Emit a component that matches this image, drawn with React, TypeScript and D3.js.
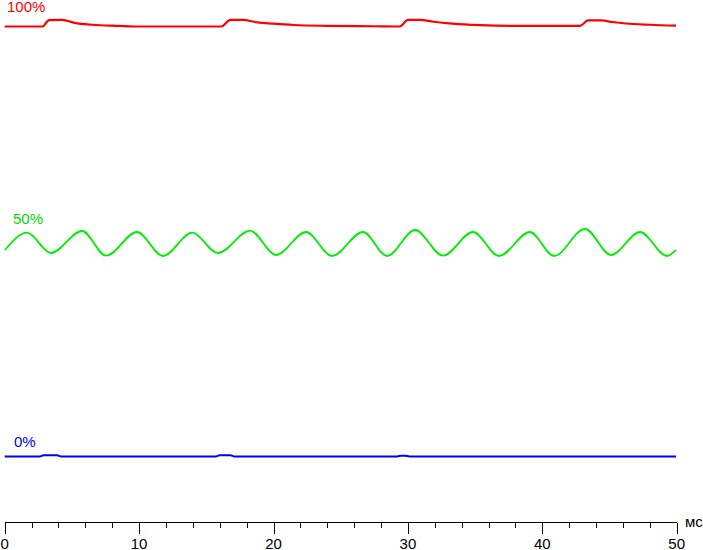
import React from "react";
import * as d3 from "d3";

// time in ms, brightness in % (relative)
const redSeries: [number, number][] = [
  [0, 100.05], [2.8, 100.05], [3.3, 101.55], [4.3, 101.6], [5.2, 100.9], [6.5, 100.45], [8.5, 100.2], [10, 100.05],
  [16.1, 100.05], [16.8, 101.6], [17.7, 101.6], [18.8, 101.0], [20.0, 100.7], [21.5, 100.4], [24.0, 100.2], [27.5, 100.1], [29.4, 100.05],
  [30.0, 101.6], [30.9, 101.6], [31.9, 101.15], [33.3, 100.7], [35.4, 100.35], [38.0, 100.2], [42.8, 100.2],
  [43.4, 101.45], [44.4, 101.45], [45.2, 101.1], [46.2, 100.75], [48.0, 100.45], [49.95, 100.25],
];

const greenSeries: [number, number][] = [
  [0.02, 48.05], [1.66, 52.07], [3.44, 47.35], [5.75, 52.47], [7.54, 46.72], [9.84, 52.23], [11.78, 46.65],
  [13.94, 52.07], [15.87, 47.35], [18.25, 52.54], [20.19, 46.88], [22.42, 52.23], [24.35, 46.65],
  [26.66, 52.23], [28.45, 46.65], [30.53, 52.7], [32.61, 46.72], [34.84, 52.23], [36.78, 46.65],
  [39.08, 52.23], [40.87, 46.65], [43.18, 52.93], [45.11, 46.88], [47.27, 52.23], [49.28, 46.65], [49.95, 48.05],
];

const blueSeries: [number, number][] = [
  [0, 0], [2.6, 0], [2.9, 0.3], [3.9, 0.3], [4.2, 0], [15.7, 0], [16.0, 0.3], [16.8, 0.3], [17.1, 0],
  [29.2, 0], [29.5, 0.2], [29.8, 0.2], [30.1, 0], [49.95, 0],
];

const majorTicks = [0, 10, 20, 30, 40, 50];
const minorTicks = [2, 4, 6, 8, 12, 14, 16, 18, 22, 24, 26, 28, 32, 34, 36, 38, 42, 44, 46, 48];
const seriesLabels = ["100%", "50%", "0%"];
const unitLabel = "мс";

export default function App() {
  const W = 703, H = 550;
  const x = d3.scaleLinear().domain([0, 50]).range([4.7, 676.7]);
  const y = d3.scaleLinear().domain([0, 100]).range([456.5, 26.7]);
  const line = d3
    .line<[number, number]>()
    .x((d) => x(d[0]))
    .y((d) => y(d[1]))
    .curve(d3.curveMonotoneX);
  const axisY = 522.5;
  const font = "'Liberation Sans', Arial, sans-serif";
  return (
    <svg
      width={W}
      height={H}
      style={{ position: "absolute", left: 0, top: 0, background: "#fff" }}
    >
      <path d={line(redSeries) || ""} fill="none" stroke="#ff0000" strokeWidth={2.2} />
      <path d={line(greenSeries) || ""} fill="none" stroke="#00ee00" strokeWidth={1.8} />
      <path d={line(blueSeries) || ""} fill="none" stroke="#0000ff" strokeWidth={2} />

      <text x={7} y={12} fill="#ff0000" fontFamily={font} fontSize={15}>{seriesLabels[0]}</text>
      <text x={13} y={224} fill="#00dd00" fontFamily={font} fontSize={15}>{seriesLabels[1]}</text>
      <text x={14} y={447} fill="#0000ff" fontFamily={font} fontSize={15}>{seriesLabels[2]}</text>

      <g shapeRendering="crispEdges" stroke="#000">
        <line x1={x(0)} x2={x(50)} y1={axisY} y2={axisY} />
        {majorTicks.map((t) => (
          <line key={"M" + t} x1={Math.round(x(t)) + 0.5} x2={Math.round(x(t)) + 0.5} y1={axisY} y2={axisY + 11} />
        ))}
        {minorTicks.map((t) => (
          <line key={"m" + t} x1={Math.round(x(t)) + 0.5} x2={Math.round(x(t)) + 0.5} y1={axisY} y2={axisY + 5} />
        ))}
      </g>
      {majorTicks.map((t) => (
        <text key={"L" + t} x={x(t)} y={549} textAnchor="middle" fontFamily={font} fontSize={15} fill="#000">
          {t}
        </text>
      ))}
      <text x={685} y={527} fontFamily={font} fontSize={15} fill="#000">{unitLabel}</text>
    </svg>
  );
}
